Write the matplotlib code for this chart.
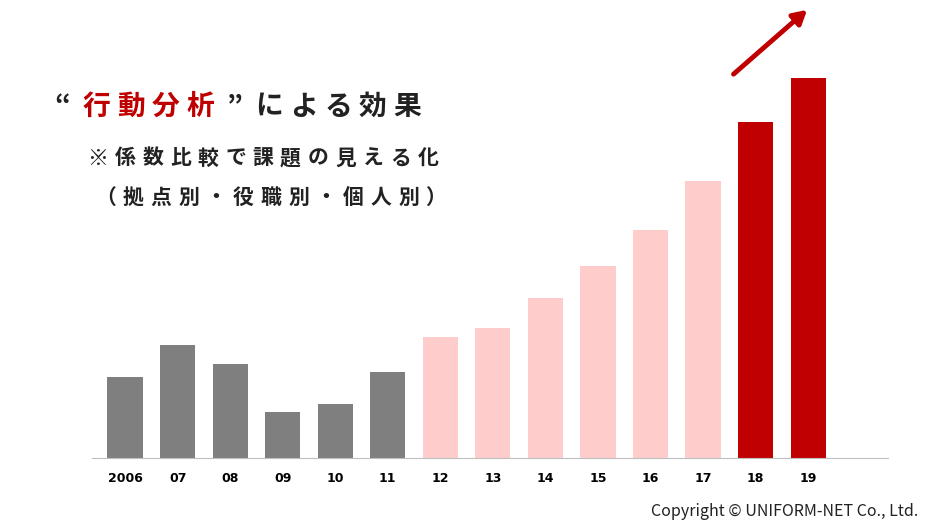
import matplotlib
matplotlib.use("Agg")
import matplotlib.pyplot as plt

plt.rcParams["font.family"] = ["Noto Sans CJK JP", "DejaVu Sans"]

years = ["2006", "07", "08", "09", "10", "11", "12", "13", "14", "15", "16", "17", "18", "19"]
values = [81, 113, 94, 46, 54, 86, 121, 130, 160, 192, 228, 277, 336, 380]
groups = ["past"] * 6 + ["mid"] * 6 + ["now"] * 2
palette = {"past": "#7f7f7f", "mid": "#ffcccc", "now": "#c00000"}

fig = plt.figure(figsize=(9.41, 5.29), dpi=100)
ax = fig.add_axes([92 / 941, 71 / 529, (888 - 92) / 941, 458 / 529])

x = list(range(len(years)))
ax.bar(x, values, width=0.67, color=[palette[g] for g in groups])
ax.set_xlim(-0.63, 14.52)
ax.set_ylim(0, 458)
ax.set_xticks(x)
ax.set_xticklabels(years, fontsize=9, fontweight="bold", family="DejaVu Sans")
ax.tick_params(axis="x", length=0, pad=10)
ax.set_yticks([])
for s in ["top", "left", "right"]:
    ax.spines[s].set_visible(False)
ax.spines["bottom"].set_color("#bfbfbf")
ax.patch.set_alpha(0)

# trend arrow
ax.annotate("", xy=(13.02, 450), xytext=(11.54, 382),
            arrowprops=dict(arrowstyle="-|>,head_length=0.8,head_width=0.45",
                            color="#c00000", lw=3.5))


def spaced(txt, x0, y0, size, colors, step):
    # draw characters one by one to mimic the wide letter spacing
    xp = x0
    for ch, c in zip(txt, colors):
        fig.text(xp / 941, 1 - y0 / 529, ch, fontsize=size, fontweight="bold",
                 va="center", ha="center", color=c)
        xp += step


head = "“行動分析”による効果"
head_cols = ["#222222"] + ["#c00000"] * 4 + ["#222222"] * 6
spaced(head, 62, 107, 20, head_cols, 34.5)
spaced("※係数比較で課題の見える化", 98, 158, 15, ["#222222"] * 13, 27.5)
spaced("（拠点別・役職別・個人別）", 106, 197, 15, ["#222222"] * 13, 27.5)

fig.text(918 / 941, 1 - 512 / 529, "Copyright © UNIFORM-NET Co., Ltd.", fontsize=11.5,
         ha="right", va="center", color="#222222")

fig.savefig("out.png", dpi=100)
